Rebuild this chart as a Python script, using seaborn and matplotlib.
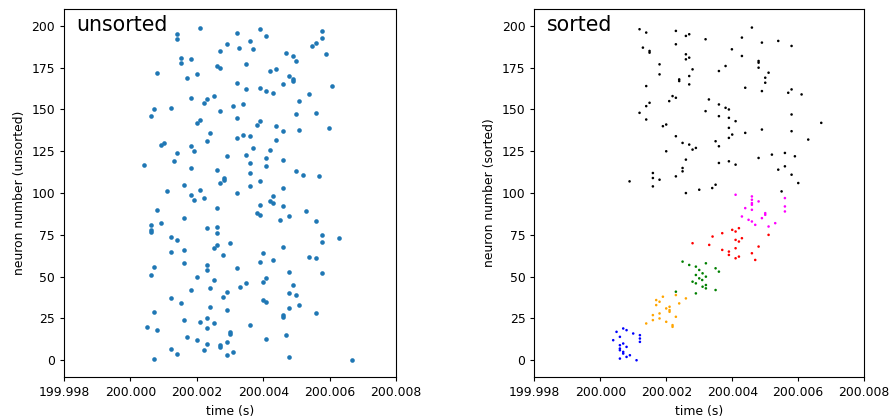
import numpy as np
import pandas as pd
import matplotlib
matplotlib.use("Agg")
import matplotlib.pyplot as plt
from matplotlib.ticker import FormatStrFormatter
import seaborn as sns

# Spike time of each neuron (index = neuron number), in microseconds after t = 200 s
unsorted_offset_us = [
    6671, 708, 4784, 2897, 1400, 3098, 2204, 1210, 2696, 2696,
    2304, 2897, 2003, 4091, 1712, 4683, 2997, 2997, 808, 2304,
    507, 3599, 2505, 2103, 1612, 2304, 4583, 4583, 5577, 708,
    2897, 4784, 2405, 5085, 1511, 4091, 3991, 1210, 2797, 4985,
    4784, 2897, 1812, 2405, 3298, 4884, 3489, 3991, 2505, 4091,
    2003, 608, 5778, 4784, 2304, 3198, 708, 2304, 1612, 3890,
    4292, 5577, 5376, 2797, 3991, 1210, 1612, 2505, 4583, 2595,
    2997, 5778, 1400, 6270, 1210, 5778, 2595, 608, 608, 2304,
    2595, 608, 909, 5577, 4493, 1612, 4784, 3890, 3800, 5286,
    808, 2595, 4583, 3890, 4292, 4191, 1903, 2204, 4292, 1812,
    3198, 1110, 2103, 4583, 3599, 1612, 2706, 3890, 2807, 2807,
    5677, 5185, 3599, 4985, 2595, 1812, 4091, 417, 3599, 1311,
    4583, 4091, 2897, 3489, 1400, 1903, 4191, 3699, 1812, 909,
    1009, 2304, 4392, 3198, 3599, 3398, 2405, 4583, 5085, 5978,
    4392, 3800, 2003, 3890, 2103, 3198, 608, 4985, 5577, 2706,
    718, 1210, 3087, 3398, 2204, 5085, 2304, 1812, 2505, 5376,
    4292, 4091, 3489, 3890, 6079, 4583, 3198, 4884, 4884, 1702,
    4784, 2003, 808, 4191, 4392, 2706, 2595, 3489, 1511, 4985,
    1812, 1511, 4884, 5878, 4683, 2696, 3699, 3268, 5477, 2897,
    5577, 3599, 1400, 5778, 4091, 1400, 3198, 5778, 3890, 2103,
]

sorted_offset_us = [
    1097, 592, 794, 895, 693, 693, 592, 592, 794, 592,
    693, 1199, 389, 1199, 592, 1199, 996, 490, 794, 693,
    2190, 2190, 1391, 1998, 1593, 1795, 2291, 1593, 1795, 2099,
    2099, 1998, 2099, 1694, 2392, 1795, 1694, 2595, 1897, 2291,
    2898, 2291, 3496, 3202, 3101, 3202, 2898, 2797, 3090, 3000,
    3202, 2898, 3101, 3597, 3000, 3496, 2898, 2696, 3202, 2494,
    4699, 4103, 4204, 3900, 4598, 3900, 3698, 4103, 4801, 3303,
    2797, 4204, 4103, 4295, 3404, 5104, 3698, 4103, 4001, 4204,
    5104, 4699, 5306, 4598, 4497, 4902, 4295, 5003, 5003, 5600,
    4598, 4396, 5600, 4598, 4598, 4801, 4598, 5600, 4598, 4103,
    2595, 5499, 3000, 3394, 1593, 3496, 6005, 885, 1795, 1593,
    2291, 5802, 1593, 2494, 5398, 2494, 5600, 4103, 3597, 3900,
    2595, 4801, 5903, 5205, 5600, 1998, 2797, 2898, 3597, 2696,
    2494, 3496, 6308, 3900, 2291, 4001, 4396, 5802, 4902, 3900,
    1897, 1998, 6703, 4103, 1391, 3900, 3597, 5802, 1188, 3192,
    3900, 3799, 1391, 3597, 1492, 2089, 3293, 2291, 2190, 6106,
    5701, 4902, 5802, 4396, 1391, 2696, 5003, 2392, 2392, 5003,
    2696, 1795, 5104, 3597, 2797, 4801, 3799, 1795, 4801, 4801,
    2595, 2696, 4295, 2595, 1492, 1492, 3991, 1290, 5802, 2291,
    4902, 5398, 3192, 4295, 2595, 2696, 1391, 2291, 1188, 4598,
]

# Assemblies in sorted order: name, number of neurons, colour
assembly_names = ["a1", "a2", "a3", "a4", "a5", "rest"]
assembly_sizes = [20, 20, 20, 20, 20, 100]
assembly_colors = ["blue", "orange", "green", "red", "magenta", "black"]

x_ticks = [199.998, 200.000, 200.002, 200.004, 200.006, 200.008]
y_ticks = [0, 25, 50, 75, 100, 125, 150, 175, 200]

t0 = 200.0
left_df = pd.DataFrame({
    "time": t0 + np.array(unsorted_offset_us) * 1e-6,
    "neuron": np.arange(len(unsorted_offset_us)),
})
right_df = pd.DataFrame({
    "time": t0 + np.array(sorted_offset_us) * 1e-6,
    "neuron": np.arange(len(sorted_offset_us)),
    "assembly": np.repeat(assembly_names, assembly_sizes),
})

sns.set_theme(style="ticks", rc={
    "text.color": "black", "axes.labelcolor": "black",
    "xtick.color": "black", "ytick.color": "black",
    "axes.edgecolor": "black",
})
plt.rcParams["font.family"] = ["DejaVu Sans"]
fs = 8.9

fig = plt.figure(figsize=(8.92, 4.17), dpi=100)
ax1 = fig.add_axes([0.0717, 0.096, 0.3725, 0.882])
ax2 = fig.add_axes([0.5992, 0.096, 0.3694, 0.882])

sns.scatterplot(data=left_df, x="time", y="neuron", ax=ax1, color="#1f77b4",
                s=11, linewidth=0, legend=False)
sns.scatterplot(data=right_df, x="time", y="neuron", hue="assembly", ax=ax2,
                palette=dict(zip(assembly_names, assembly_colors)),
                s=3.4, linewidth=0, legend=False)

for ax, title, ylab in [(ax1, "unsorted", "neuron number (unsorted)"),
                        (ax2, "sorted", "neuron number (sorted)")]:
    ax.set_xlim(x_ticks[0], x_ticks[-1])
    ax.set_ylim(-10, 210)
    ax.set_xticks(x_ticks)
    ax.set_yticks(y_ticks)
    ax.xaxis.set_major_formatter(FormatStrFormatter("%.3f"))
    ax.tick_params(labelsize=fs, length=3, width=0.8)
    ax.set_xlabel("time (s)", fontsize=fs)
    ax.set_ylabel(ylab, fontsize=fs)
    for sp in ax.spines.values():
        sp.set_linewidth(0.8)
        sp.set_color("black")
    ax.text(0.038, 0.985, title, transform=ax.transAxes, ha="left", va="top",
            fontsize=14.8)

fig.savefig("out.png", dpi=100)
